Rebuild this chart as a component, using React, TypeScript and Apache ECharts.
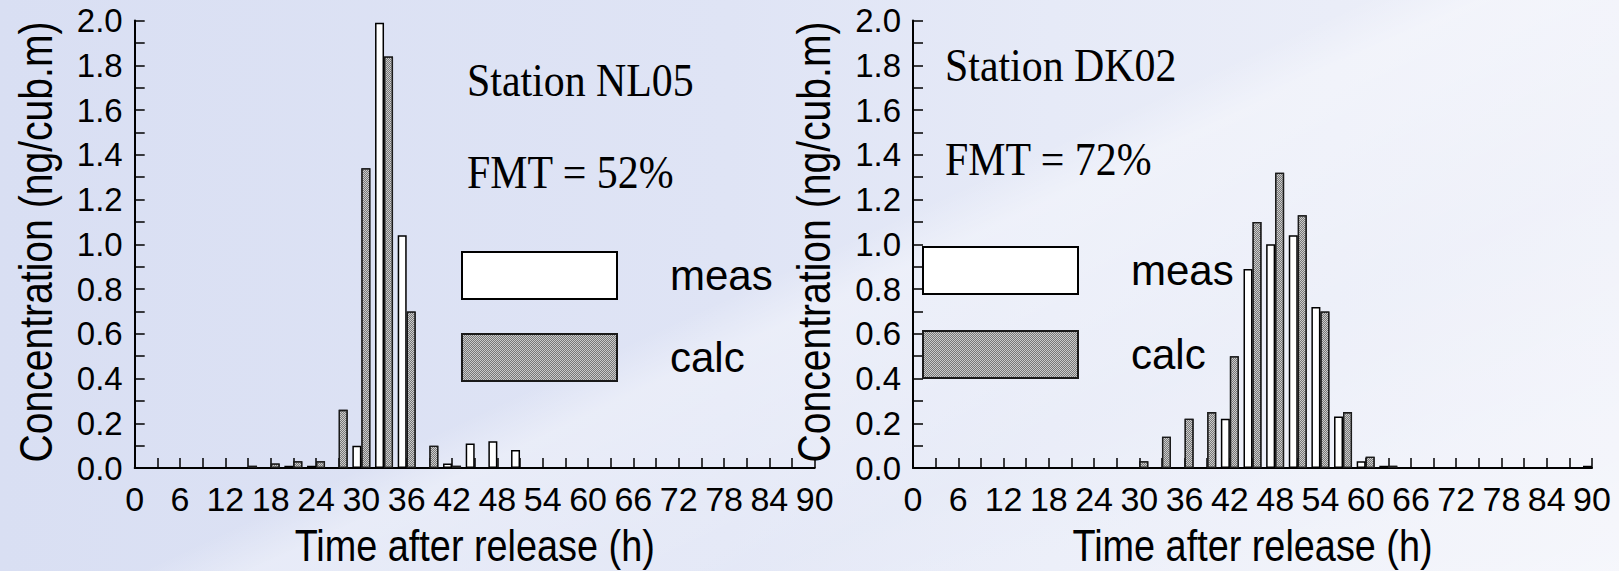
import React, { useEffect, useRef } from 'react';
import * as echarts from 'echarts';

// Time after release (h), one bar pair every 3 hours
const hours = [0, 3, 6, 9, 12, 15, 18, 21, 24, 27, 30, 33, 36, 39, 42, 45, 48, 51, 54, 57, 60, 63, 66, 69, 72, 75, 78, 81, 84, 87, 90];

// Station NL05 (ng/cub.m)
const measNL05 = [0, 0, 0, 0, 0, 0, 0, 0.01, 0.01, 0, 0.10, 1.99, 1.04, 0, 0.02, 0.11, 0.12, 0.08, 0, 0, 0, 0, 0, 0, 0, 0, 0, 0, 0, 0, 0];
const calcNL05 = [0, 0, 0, 0, 0, 0.01, 0.02, 0.03, 0.03, 0.26, 1.34, 1.84, 0.70, 0.10, 0.01, 0, 0, 0, 0, 0, 0, 0, 0, 0, 0, 0, 0, 0, 0, 0, 0];

// Station DK02 (ng/cub.m)
const measDK02 = [0, 0, 0, 0, 0, 0, 0, 0, 0, 0, 0, 0, 0, 0, 0.22, 0.89, 1.00, 1.04, 0.72, 0.23, 0.03, 0.01, 0, 0, 0, 0, 0, 0, 0, 0, 0.01];
const calcDK02 = [0, 0, 0, 0, 0, 0, 0, 0, 0, 0, 0.03, 0.14, 0.22, 0.25, 0.50, 1.10, 1.32, 1.13, 0.70, 0.25, 0.05, 0.01, 0, 0, 0, 0, 0, 0, 0, 0, 0];

const panels = [
  { station: 'Station NL05', fmt: 'FMT = 52%', meas: measNL05, calc: calcNL05 },
  { station: 'Station DK02', fmt: 'FMT = 72%', meas: measDK02, calc: calcDK02 },
];

const seriesNames = ['meas', 'calc'];
const xName = 'Time after release (h)';
const yName = 'Concentration (ng/cub.m)';

const SANS = '"Liberation Sans", Arial, sans-serif';
const SERIF = '"Liberation Serif", "Times New Roman", serif';

const grids = [
  { left: 134.7, top: 20.6, width: 680, height: 447.4, outerBoundsMode: 'none', containLabel: false },
  { left: 913, top: 20.6, width: 679, height: 447.4, outerBoundsMode: 'none', containLabel: false },
];

const titlePos = [
  { x: 467, y1: 81, y2: 173 },
  { x: 945, y1: 66, y2: 160 },
];

const legendPos = [
  { left: 461, top: 251, gap: 33 },
  { left: 922, top: 246, gap: 35 },
];

const toPairs = (vals: number[]) => vals.map((v, i) => [hours[i], v === 0 ? null : v]);

const measStyle = { color: '#ffffff', borderColor: '#000000', borderWidth: 1.5 };
const calcStyle = {
  color: '#cbcbcb',
  borderColor: '#1a1a1a',
  borderWidth: 1.3,
  decal: {
    symbol: 'rect',
    symbolSize: 1,
    dashArrayX: [[1, 1], [0, 1, 1, 0]],
    dashArrayY: [1, 0],
    color: '#787878',
  },
};

export default function App() {
  const ref = useRef<HTMLDivElement>(null);

  useEffect(() => {
    if (!ref.current) return;
    const chart = echarts.init(ref.current, undefined, { renderer: 'svg' });

    const xAxes = grids.map((_, i) => ({
      type: 'value',
      gridIndex: i,
      min: 0,
      max: 90,
      interval: 3,
      axisLine: { show: true, onZero: false, lineStyle: { color: '#000', width: 2 } },
      axisTick: { show: true, inside: true, length: 10, lineStyle: { color: '#000', width: 1.5 } },
      axisLabel: {
        fontSize: 34,
        fontFamily: SANS,
        color: '#000',
        margin: 14,
        formatter: (v: number) => (Math.round(v) % 6 === 0 ? String(Math.round(v)) : ''),
      },
      splitLine: { show: false },
    }));

    const yAxes = grids.map((_, i) => ({
      type: 'value',
      gridIndex: i,
      min: 0,
      max: 2,
      interval: 0.1,
      axisLine: { show: true, lineStyle: { color: '#000', width: 2 } },
      axisTick: { show: true, inside: true, length: 10, lineStyle: { color: '#000', width: 1.5 } },
      axisLabel: {
        fontSize: 33,
        fontFamily: SANS,
        color: '#000',
        margin: 12,
        formatter: (v: number) => (Math.round(v * 10) % 2 === 0 ? v.toFixed(1) : ''),
      },
      splitLine: { show: false },
    }));

    const series: any[] = [];
    panels.forEach((p, i) => {
      series.push({
        type: 'bar',
        name: seriesNames[0],
        xAxisIndex: i,
        yAxisIndex: i,
        data: toPairs(p.meas),
        barWidth: 9,
        barGap: '0%',
        itemStyle: measStyle,
      });
      series.push({
        type: 'bar',
        name: seriesNames[1],
        xAxisIndex: i,
        yAxisIndex: i,
        data: toPairs(p.calc),
        barWidth: 9,
        barGap: '0%',
        itemStyle: calcStyle,
      });
    });

    const legends = legendPos.map((lp) => ({
      data: seriesNames,
      left: lp.left,
      top: lp.top,
      orient: 'vertical',
      icon: 'rect',
      itemWidth: 155,
      itemHeight: 47,
      itemGap: lp.gap,
      padding: 0,
      selectedMode: false,
      textStyle: {
        fontSize: 42,
        fontFamily: SANS,
        color: '#000',
        lineHeight: 47,
        padding: [0, 0, 0, 48],
      },
    }));

    const graphics: any[] = [];
    panels.forEach((p, i) => {
      const tp = titlePos[i];
      const g = grids[i];
      graphics.push({
        type: 'text',
        x: tp.x,
        y: tp.y1,
        scaleX: 0.91,
        style: { text: p.station, fontFamily: SERIF, fontSize: 46, fill: '#000', verticalAlign: 'middle', align: 'left' },
      });
      graphics.push({
        type: 'text',
        x: tp.x,
        y: tp.y2,
        scaleX: 0.91,
        style: { text: p.fmt, fontFamily: SERIF, fontSize: 46, fill: '#000', verticalAlign: 'middle', align: 'left' },
      });
      // axis titles (condensed like the original)
      graphics.push({
        type: 'text',
        x: g.left + g.width / 2,
        y: 546,
        scaleX: 0.86,
        style: { text: xName, fontFamily: SANS, fontSize: 44, fill: '#000', verticalAlign: 'middle', align: 'center' },
      });
      graphics.push({
        type: 'text',
        x: g.left - 99,
        y: 242,
        rotation: Math.PI / 2,
        scaleX: 0.85,
        style: { text: yName, fontFamily: SANS, fontSize: 46, fill: '#000', verticalAlign: 'middle', align: 'center' },
      });
    });

    chart.setOption({
      animation: false,
      backgroundColor: 'transparent',
      grid: grids,
      xAxis: xAxes,
      yAxis: yAxes,
      legend: legends,
      series,
      graphic: graphics,
    });

    return () => chart.dispose();
  }, []);

  return (
    <div
      style={{
        position: 'fixed',
        left: 0,
        top: 0,
        width: 1619,
        height: 571,
        background:
          'linear-gradient(155deg, rgba(255,255,255,0) 0%, rgba(255,255,255,0) 48%, rgba(255,255,255,0.35) 52%, rgba(255,255,255,0.15) 70%, rgba(255,255,255,0.45) 100%), linear-gradient(90deg, #d9dff3 0%, #dfe4f5 45%, #e6eaf7 65%, #eef0f9 100%)',
      }}
    >
      <div ref={ref} style={{ width: 1619, height: 571 }} />
    </div>
  );
}
